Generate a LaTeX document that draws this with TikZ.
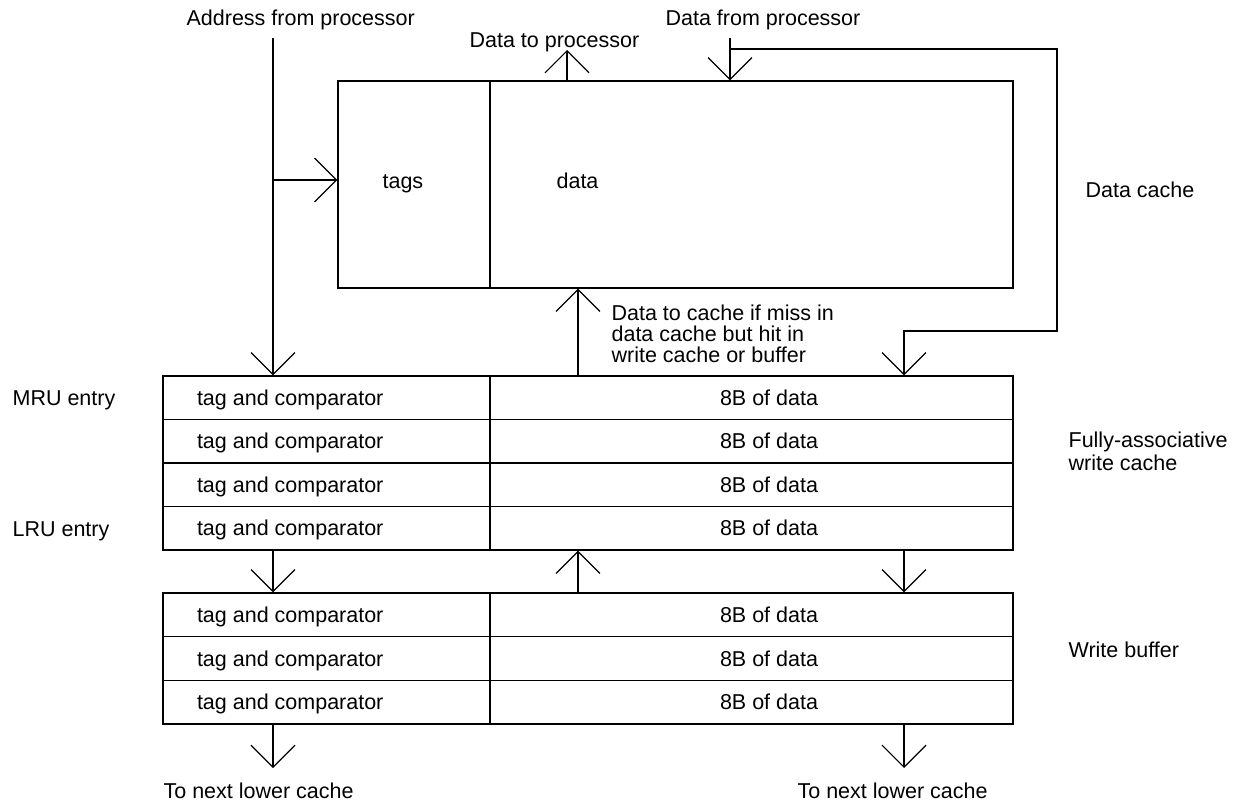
\documentclass[tikz,border=0pt]{standalone}
\usepackage{fontspec}
\setmainfont{Liberation Sans}
\usetikzlibrary{arrows.meta}
\begin{document}
\begin{tikzpicture}[x=1pt,y=-1pt,
  line width=1.2pt,
  cell/.style={draw, rectangle, inner sep=0pt},
  tcell/.style={cell, minimum width=327pt},
  dcell/.style={cell, minimum width=523pt},
  lbl/.style={inner sep=0pt, font=\fontsize{21.5}{21}\selectfont, anchor=base west},
  arr/.style={-{Straight Barb[length=22pt,width=44pt]}}
]
\useasboundingbox (0,0) rectangle (1233,803);

% data cache
\node[cell, minimum width=152pt, minimum height=207pt] (tags) at (414,184.5) {};
\node[cell, minimum width=523pt, minimum height=207pt] (dbox) at (751.5,184.5) {};
\node[lbl] (tagsl) at (382,188) {tags};
\node[lbl] (datal) at (556,188) {data};
\node[lbl] (dcl) at (1085,197) {Data cache};

% write cache
\foreach \i/\y in {1/397.75,2/441.25,3/484.75,4/528.25} {
  \node[tcell, minimum height=43.5pt] (wt\i) at (326.5,\y) {};
  \node[dcell, minimum height=43.5pt] (wd\i) at (751.5,\y) {};
  \node[lbl] (wtl\i) at ([xshift=34pt,yshift=-7.5pt]wt\i.west) {tag and comparator};
  \node[lbl, anchor=base] (wdl\i) at ([xshift=17.5pt,yshift=-7.5pt]wd\i.center) {8B of data};
}
% write buffer
\foreach \i/\y in {1/614.8,2/658.5,3/702.2} {
  \node[tcell, minimum height=43.67pt] (bt\i) at (326.5,\y) {};
  \node[dcell, minimum height=43.67pt] (bd\i) at (751.5,\y) {};
  \node[lbl] (btl\i) at ([xshift=34pt,yshift=-7.5pt]bt\i.west) {tag and comparator};
  \node[lbl, anchor=base] (bdl\i) at ([xshift=17.5pt,yshift=-7.5pt]bd\i.center) {8B of data};
}

% labels
\node[lbl] (addrl) at (186,25) {Address from processor};
\node[lbl] (dtpl) at (469,47) {Data to processor};
\node[lbl] (dfpl) at (665,25) {Data from processor};
\node[lbl, align=left] (dtcl) at (611,362) {Data to cache if miss in\\data cache but hit in\\write cache or buffer};
\node[lbl] (mrul) at (12,405) {MRU entry};
\node[lbl] (lrul) at (12,536) {LRU entry};
\node[lbl, align=left, font=\fontsize{21.5}{23}\selectfont] (fal) at (1068,470) {Fully-associative\\write cache};
\node[lbl] (wbl) at (1068,657) {Write buffer};
\node[lbl] (nl1) at (163,798) {To next lower cache};
\node[lbl] (nl2) at (797,798) {To next lower cache};

% coordinates
\coordinate (addr) at (273,38);
\coordinate (tagin) at ([yshift=4.5pt]tags.west);
\coordinate (dtp) at (567,50);
\coordinate (dfp) at (730,38);
\coordinate (c1) at (1057,49);
\coordinate (c2) at (1057,331);
\coordinate (c3) at (904,331);
\coordinate (mid) at (578,0);
\coordinate (out1) at (273,768);
\coordinate (out2) at (904,768);

% connectors
\draw[arr] (addr) -- (addr |- wt1.north);
\draw[arr] (addr |- tagin) -- (tagin);
\draw[arr] (dtp |- dbox.north) -- (dtp);
\draw[arr] (dfp) -- (dfp |- dbox.north);
\draw[arr] (dfp |- c1) -- (c1) -- (c2) -- (c3) -- (c3 |- wd1.north);
\draw[arr] (mid |- wd1.north) -- (mid |- dbox.south);
\draw[arr] (addr |- wt4.south) -- (addr |- bt1.north);
\draw[arr] (mid |- bd1.north) -- (mid |- wd4.south);
\draw[arr] (c3 |- wd4.south) -- (c3 |- bd1.north);
\draw[arr] (out1 |- bt3.south) -- (out1);
\draw[arr] (out2 |- bd3.south) -- (out2);
\end{tikzpicture}
\end{document}
